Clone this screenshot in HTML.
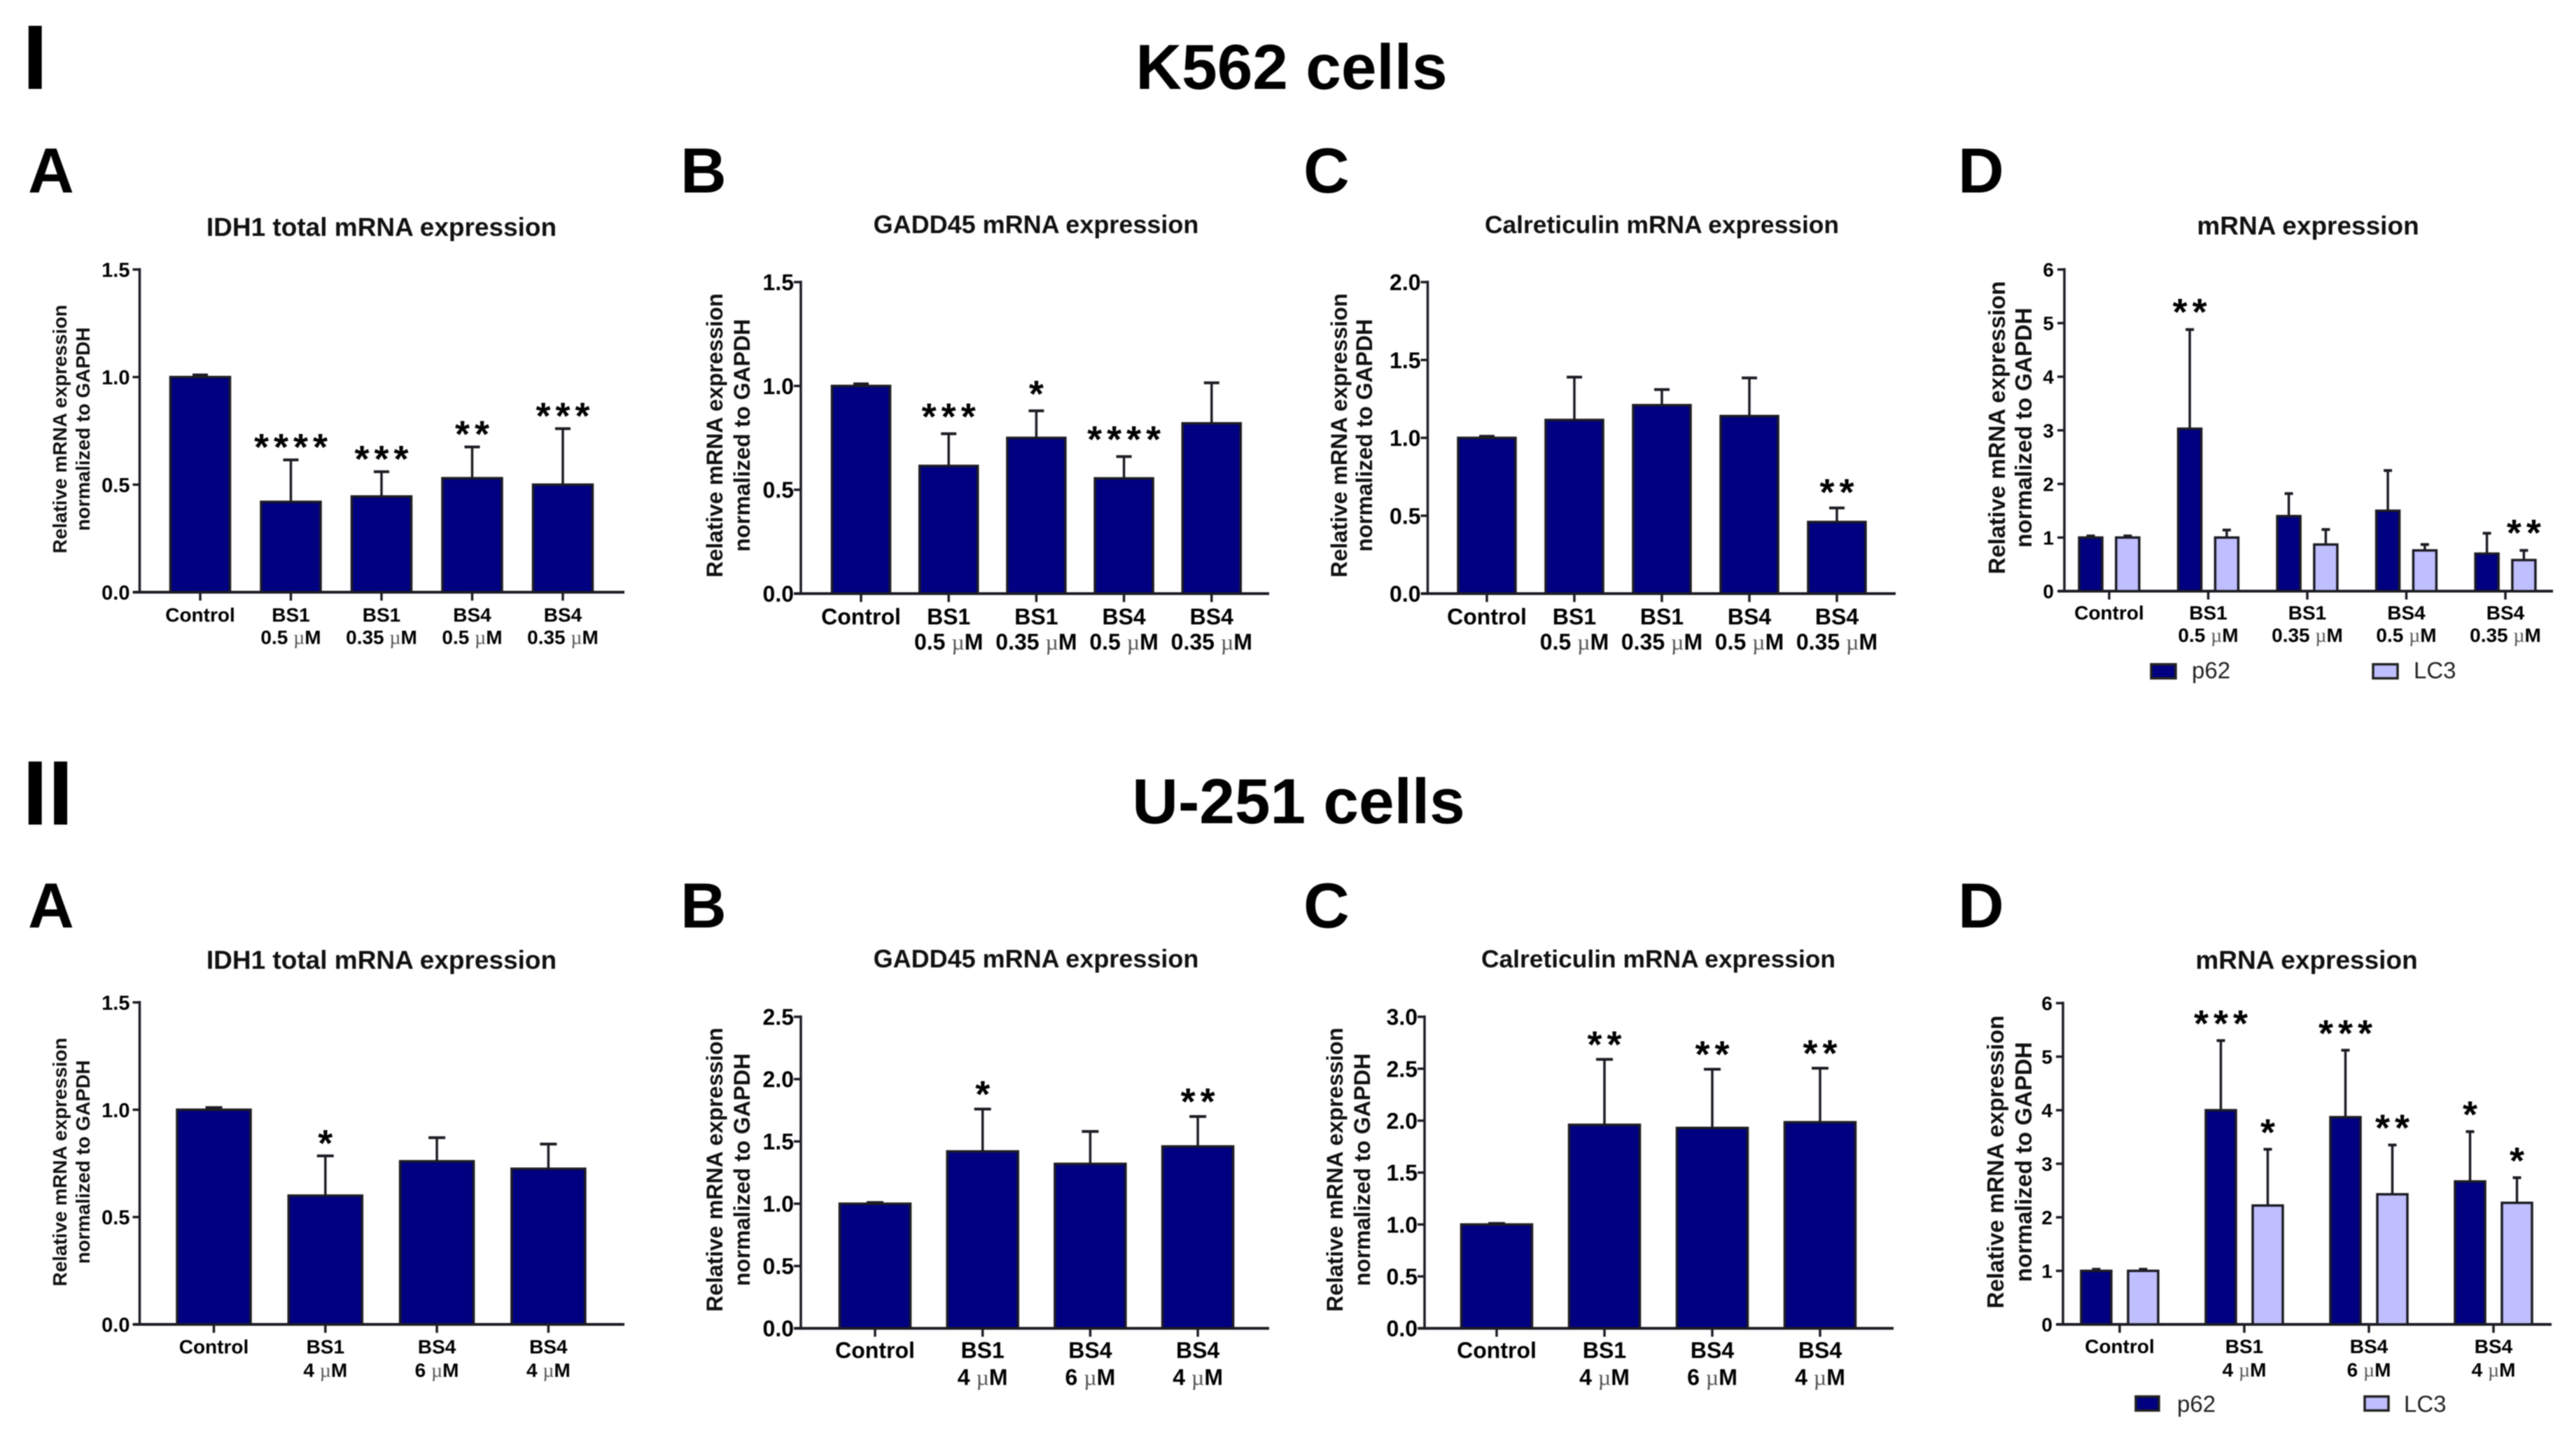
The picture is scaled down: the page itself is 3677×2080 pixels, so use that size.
<!DOCTYPE html>
<html lang="en">
<head>
<meta charset="utf-8">
<title>K562 and U-251 mRNA expression</title>
<style>
html,body{margin:0;padding:0;background:#fff;width:3677px;height:2080px;overflow:hidden}
svg{display:block;filter:blur(0.8px)}
text{font-family:"Liberation Sans",Arial,sans-serif;fill:#000}
.b{font-weight:700}
.t{font-weight:700;font-size:37px;text-anchor:middle;fill:#111}
.t36{font-size:36px}
.t35{font-size:35.4px}
.yt{font-weight:700;text-anchor:middle;fill:#111}
.leg{font-size:33px;fill:#222}
</style>
</head>
<body>
<svg id="figure" width="3677" height="2080" viewBox="0 0 3677 2080" xmlns="http://www.w3.org/2000/svg">
<rect width="3677" height="2080" fill="#fff"/>

<text class="b" x="32" y="127" font-size="131">I</text>
<text class="b" x="1845" y="127" font-size="91" text-anchor="middle">K562 cells</text>
<text class="b" x="32" y="1178" font-size="131">II</text>
<text class="b" x="1855" y="1176" font-size="91" text-anchor="middle">U-251 cells</text>

<text class="b" x="40" y="275" font-size="91">A</text>
<text class="b" x="972" y="275" font-size="91">B</text>
<text class="b" x="1862" y="275" font-size="91">C</text>
<text class="b" x="2797" y="275" font-size="91">D</text>
<text class="b" x="40" y="1325" font-size="91">A</text>
<text class="b" x="972" y="1325" font-size="91">B</text>
<text class="b" x="1862" y="1325" font-size="91">C</text>
<text class="b" x="2797" y="1325" font-size="91">D</text>

<text class="t" x="545" y="337">IDH1 total mRNA expression</text>
<text class="t t36" x="1480" y="333">GADD45 mRNA expression</text>
<text class="t t35" x="2374" y="333">Calreticulin mRNA expression</text>
<text class="t" x="3297" y="335">mRNA expression</text>
<text class="t" x="545" y="1384">IDH1 total mRNA expression</text>
<text class="t t36" x="1480" y="1382">GADD45 mRNA expression</text>
<text class="t t35" x="2369" y="1382">Calreticulin mRNA expression</text>
<text class="t" x="3295" y="1384">mRNA expression</text>

<g font-size="28">
<text class="yt" transform="translate(95 613) rotate(-90)">Relative mRNA expression</text>
<text class="yt" transform="translate(128 613) rotate(-90)">normalized to GAPDH</text>
</g>
<g font-size="32">
<text class="yt" transform="translate(1032 622) rotate(-90)">Relative mRNA expression</text>
<text class="yt" transform="translate(1071 622) rotate(-90)">normalized to GAPDH</text>
</g>
<g font-size="32">
<text class="yt" transform="translate(1924 622) rotate(-90)">Relative mRNA expression</text>
<text class="yt" transform="translate(1960 622) rotate(-90)">normalized to GAPDH</text>
</g>
<g font-size="33">
<text class="yt" transform="translate(2864 611) rotate(-90)">Relative mRNA expression</text>
<text class="yt" transform="translate(2902 611) rotate(-90)">normalized to GAPDH</text>
</g>
<g font-size="28">
<text class="yt" transform="translate(95 1660) rotate(-90)">Relative mRNA expression</text>
<text class="yt" transform="translate(128 1660) rotate(-90)">normalized to GAPDH</text>
</g>
<g font-size="32">
<text class="yt" transform="translate(1032 1671) rotate(-90)">Relative mRNA expression</text>
<text class="yt" transform="translate(1071 1671) rotate(-90)">normalized to GAPDH</text>
</g>
<g font-size="32">
<text class="yt" transform="translate(1918 1671) rotate(-90)">Relative mRNA expression</text>
<text class="yt" transform="translate(1957 1671) rotate(-90)">normalized to GAPDH</text>
</g>
<g font-size="33">
<text class="yt" transform="translate(2862 1660) rotate(-90)">Relative mRNA expression</text>
<text class="yt" transform="translate(2902 1660) rotate(-90)">normalized to GAPDH</text>
</g>

<g>
<g>
<rect x="3073" y="949" width="35" height="20" fill="#000080" stroke="#222" stroke-width="3.5"/>
<text class="leg" x="3131" y="969">p62</text>
</g>
<g>
<rect x="3390" y="949" width="35" height="20" fill="#bfbfff" stroke="#222" stroke-width="3.5"/>
<text class="leg" x="3448" y="969">LC3</text>
</g>
</g>
<g>
<g>
<rect x="3051" y="1995" width="33" height="20" fill="#000080" stroke="#222" stroke-width="3.5"/>
<text class="leg" x="3110" y="2017">p62</text>
</g>
<g>
<rect x="3378" y="1995" width="34" height="20" fill="#bfbfff" stroke="#222" stroke-width="3.5"/>
<text class="leg" x="3434" y="2017">LC3</text>
</g>
</g>
</svg>

<script>
// ---- shared categories ----
const k562Compounds = ["Control", "BS1", "BS1", "BS4", "BS4"];
const k562Doses = ["", "0.5", "0.35", "0.5", "0.35"];
const u251Compounds = ["Control", "BS1", "BS4", "BS4"];
const u251Doses = ["", "4", "6", "4"];

// ---- tick labels ----
const ticks15 = ["0.0", "0.5", "1.0", "1.5"];
const ticks20 = ["0.0", "0.5", "1.0", "1.5", "2.0"];
const ticks25 = ["0.0", "0.5", "1.0", "1.5", "2.0", "2.5"];
const ticks30 = ["0.0", "0.5", "1.0", "1.5", "2.0", "2.5", "3.0"];
const ticks6 = ["0", "1", "2", "3", "4", "5", "6"];

// ---- K562 values ----
const iaValues = [1.0, 0.42, 0.445, 0.53, 0.50];
const iaErrors = [1.01, 0.615, 0.56, 0.675, 0.76];
const iaStars = ["", "****", "***", "**", "***"];

const ibValues = [1.0, 0.615, 0.75, 0.555, 0.82];
const ibErrors = [1.01, 0.77, 0.88, 0.66, 1.015];
const ibStars = ["", "***", "*", "****", ""];

const icValues = [1.0, 1.115, 1.21, 1.14, 0.46];
const icErrors = [1.01, 1.39, 1.31, 1.385, 0.55];
const icStars = ["", "", "", "", "**"];

const idP62Values = [1.0, 3.03, 1.4, 1.5, 0.7];
const idP62Errors = [1.03, 4.88, 1.82, 2.25, 1.08];
const idP62Stars = ["", "**", "", "", ""];
const idLc3Values = [1.0, 1.0, 0.87, 0.76, 0.58];
const idLc3Errors = [1.03, 1.14, 1.15, 0.87, 0.76];
const idLc3Stars = ["", "", "", "", "**"];

// ---- U-251 values ----
const iiaValues = [1.0, 0.60, 0.76, 0.725];
const iiaErrors = [1.01, 0.785, 0.87, 0.84];
const iiaStars = ["", "*", "", ""];

const iibValues = [1.0, 1.42, 1.32, 1.46];
const iibErrors = [1.01, 1.76, 1.58, 1.70];
const iibStars = ["", "*", "", "**"];

const iicValues = [1.0, 1.96, 1.93, 1.985];
const iicErrors = [1.01, 2.59, 2.495, 2.505];
const iicStars = ["", "**", "**", "**"];

const iidP62Values = [1.0, 4.0, 3.87, 2.67];
const iidP62Errors = [1.03, 5.3, 5.12, 3.6];
const iidP62Stars = ["", "***", "***", "*"];
const iidLc3Values = [1.0, 2.22, 2.43, 2.27];
const iidLc3Errors = [1.03, 3.27, 3.35, 2.74];
const iidLc3Stars = ["", "*", "**", "*"];

const NAVY = "#000080";
const LILAC = "#bfbfff";
const INK = "#1c1c24";
const SVGNS = "http://www.w3.org/2000/svg";
const figure = document.getElementById("figure");

function mk(tag, attrs, parent) {
  const el = document.createElementNS(SVGNS, tag);
  for (const k in attrs) el.setAttribute(k, attrs[k]);
  parent.appendChild(el);
  return el;
}

function drawAxes(g, frame, tickLabels, compounds, doses, xScale) {
  const max = parseFloat(tickLabels[tickLabels.length - 1]);
  const yScale = v => frame.y0 - (v / max) * (frame.y0 - frame.yTop);

  const yAxis = mk("line", {x1: frame.axisX, x2: frame.axisX, y1: yScale(max) - 2, y2: frame.y0 + 2, stroke: INK, "stroke-width": 3.5}, g);
  
  

  const xAxis = mk("line", {x1: frame.axisX - 9, x2: frame.xEnd, y1: frame.y0, y2: frame.y0, stroke: INK, "stroke-width": 4}, g);
  
  

  tickLabels.forEach(label => {
    const v = parseFloat(label);
    const tick = mk("line", {x1: frame.axisX - 10, x2: frame.axisX, y1: yScale(v), y2: yScale(v), stroke: INK, "stroke-width": 3.5}, g);
    
    
    const t = mk("text", {x: frame.axisX - frame.labelGap, y: yScale(v) + frame.tickFont * 0.36, "text-anchor": "end", "font-size": frame.tickFont, "font-weight": 700, fill: "#111"}, g);
    
    
    t.textContent = label;
  });

  compounds.forEach((name, i) => {
    const cx = xScale(i);
    const tick = mk("line", {x1: cx, x2: cx, y1: frame.y0, y2: frame.y0 + 12, stroke: INK, "stroke-width": 3.5}, g);
    
    
    const t = mk("text", {x: cx, y: frame.xBase1, "text-anchor": "middle", "font-size": frame.xFont, "font-weight": 700, fill: "#111"}, g);
    
    
    t.textContent = name;
    if (doses[i]) {
      const d = mk("text", {x: cx, y: frame.xBase2, "text-anchor": "middle", "font-size": frame.xFont, "font-weight": 700, fill: "#111"}, g);
      
      
      d.appendChild(document.createTextNode(doses[i] + " "));
      const mu = mk("tspan", {"font-weight": 400, "font-family": '"Liberation Serif", serif', fill: "#555"}, d);
      mu.textContent = "\u00b5";
      d.appendChild(document.createTextNode("M"));
    }
  });
  return yScale;
}

function drawSeries(g, frame, yScale, centerOf, width, values, errors, stars, fill, seriesName) {
  values.forEach((v, i) => {
    const cx = centerOf(i);
    const top = yScale(v);
    const errTop = yScale(errors[i]);

    const stem = mk("line", {x1: cx, x2: cx, y1: top, y2: errTop, stroke: INK, "stroke-width": 3.5}, g);
    
    

    const cap = mk("line", {x1: cx - frame.capHalf, x2: cx + frame.capHalf, y1: errTop, y2: errTop, stroke: INK, "stroke-width": 4}, g);
    
    

    const bar = mk("rect", {x: cx - width / 2, y: top, width: width, height: frame.y0 - top, fill: fill, stroke: INK, "stroke-width": 3.5}, g);
    
    

    if (stars[i]) {
      const s = mk("text", {x: cx + 3.5, y: errTop - frame.starGap + 25, "text-anchor": "middle", "font-size": 54, "font-weight": 700, "letter-spacing": 7, fill: "#000"}, g);
      
      
      s.textContent = stars[i];
    }
  });
}

function drawSinglePanel(name, frame, tickLabels, compounds, doses, values, errors, stars) {
  const g = mk("g", {}, figure);
  
  
  const xScale = i => frame.first + i * frame.step;
  const yScale = drawAxes(g, frame, tickLabels, compounds, doses, xScale);
  drawSeries(g, frame, yScale, xScale, frame.barW, values, errors, stars, NAVY, "expression");
}

function drawGroupedPanel(name, frame, tickLabels, compounds, doses, aValues, aErrors, aStars, bValues, bErrors, bStars) {
  const g = mk("g", {}, figure);
  
  
  const xScale = i => frame.first + i * frame.step;
  const yScale = drawAxes(g, frame, tickLabels, compounds, doses, xScale);
  drawSeries(g, frame, yScale, i => xScale(i) - frame.offset, frame.barW, aValues, aErrors, aStars, NAVY, "p62");
  drawSeries(g, frame, yScale, i => xScale(i) + frame.offset, frame.barW, bValues, bErrors, bStars, LILAC, "lc3");
}

drawSinglePanel("chart-i-a",
  {axisX: 199.5, xEnd: 892, yTop: 385, y0: 846, first: 286, step: 129.5, barW: 85, capHalf: 11, tickFont: 29, xFont: 28, xBase1: 888, xBase2: 920, starGap: 25, labelGap: 14},
  ticks15, k562Compounds, k562Doses, iaValues, iaErrors, iaStars);
drawSinglePanel("chart-i-b",
  {axisX: 1144, xEnd: 1813, yTop: 403, y0: 848, first: 1230, step: 125.2, barW: 83, capHalf: 11, tickFont: 32, xFont: 32, xBase1: 892, xBase2: 928, starGap: 31, labelGap: 10},
  ticks15, k562Compounds, k562Doses, ibValues, ibErrors, ibStars);
drawSinglePanel("chart-i-c",
  {axisX: 2039.5, xEnd: 2708, yTop: 403, y0: 848, first: 2124, step: 125, barW: 82, capHalf: 11, tickFont: 32, xFont: 32, xBase1: 892, xBase2: 928, starGap: 29, labelGap: 10},
  ticks20, k562Compounds, k562Doses, icValues, icErrors, icStars);
drawGroupedPanel("chart-i-d",
  {axisX: 2949, xEnd: 3647, yTop: 385, y0: 844.5, first: 3013, step: 141.5, barW: 33, offset: 26.4, capHalf: 6, tickFont: 28, xFont: 28, xBase1: 885, xBase2: 917, starGap: 32, labelGap: 15},
  ticks6, k562Compounds, k562Doses, idP62Values, idP62Errors, idP62Stars, idLc3Values, idLc3Errors, idLc3Stars);

drawSinglePanel("chart-ii-a",
  {axisX: 199.5, xEnd: 892, yTop: 1432, y0: 1892, first: 305.5, step: 159.3, barW: 105, capHalf: 12, tickFont: 29, xFont: 28, xBase1: 1933.5, xBase2: 1967, starGap: 25, labelGap: 14},
  ticks15, u251Compounds, u251Doses, iiaValues, iiaErrors, iiaStars);
drawSinglePanel("chart-ii-b",
  {axisX: 1144, xEnd: 1813, yTop: 1452.6, y0: 1897.6, first: 1250, step: 153.7, barW: 101, capHalf: 12, tickFont: 32, xFont: 32, xBase1: 1940, xBase2: 1978.6, starGap: 28, labelGap: 10},
  ticks25, u251Compounds, u251Doses, iibValues, iibErrors, iibStars);
drawSinglePanel("chart-ii-c",
  {axisX: 2035, xEnd: 2705, yTop: 1452.6, y0: 1897.6, first: 2138, step: 154, barW: 101, capHalf: 12, tickFont: 32, xFont: 32, xBase1: 1940, xBase2: 1978.6, starGap: 28, labelGap: 10},
  ticks30, u251Compounds, u251Doses, iicValues, iicErrors, iicStars);
drawGroupedPanel("chart-ii-d",
  {axisX: 2947, xEnd: 3645, yTop: 1433, y0: 1892, first: 3028, step: 178, barW: 43, offset: 33.5, capHalf: 6, tickFont: 28, xFont: 28, xBase1: 1933, xBase2: 1966.6, starGap: 31, labelGap: 15},
  ticks6, u251Compounds, u251Doses, iidP62Values, iidP62Errors, iidP62Stars, iidLc3Values, iidLc3Errors, iidLc3Stars);
</script>
</body>
</html>
